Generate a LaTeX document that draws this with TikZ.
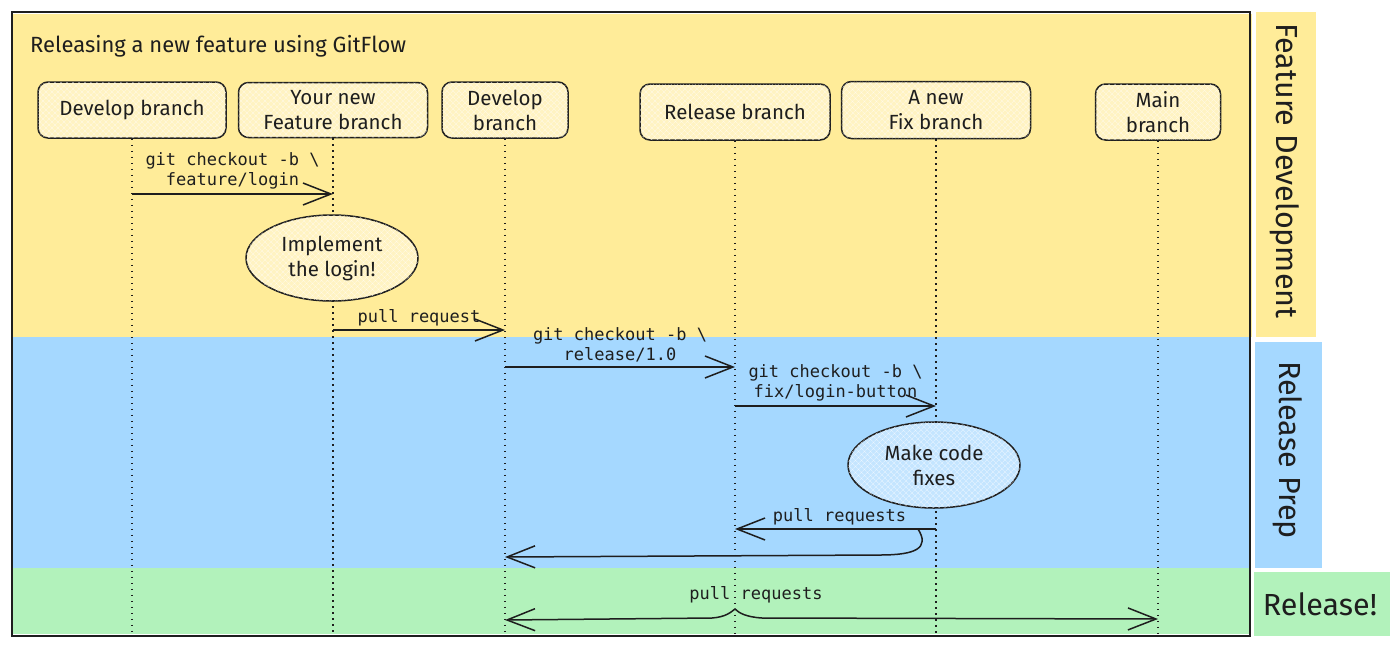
\documentclass[tikz,border=0pt]{standalone}
\usepackage{fontspec}
\setmainfont{Fira Sans}
\newfontfamily\codefont{DejaVu Sans Mono}
\usetikzlibrary{arrows.meta,shapes.geometric,patterns.meta,calc}
\definecolor{bandY}{HTML}{FFEC99}
\definecolor{bandB}{HTML}{A5D8FF}
\definecolor{bandG}{HTML}{B2F2BB}
\definecolor{ink}{HTML}{1E1E1E}
\definecolor{boxY}{HTML}{FFF3C2}
\definecolor{boxB}{HTML}{C4E5FF}
\tikzset{
  hand/.style={font=\fontsize{20.5}{25}\selectfont, text=ink},
  codetext/.style={font=\codefont\fontsize{17}{20}\selectfont, text=ink, align=center, inner sep=1pt},
  hatch/.style={postaction={pattern={Lines[angle=45,distance=4pt,line width=.5pt]}, pattern color=white, fill opacity=.6},
                postaction={pattern={Lines[angle=-45,distance=4pt,line width=.5pt]}, pattern color=white, fill opacity=.6}},
  branchbox/.style={draw=ink, line width=1.5pt, rounded corners=10pt, fill=boxY, hatch, hand, align=center, inner sep=0pt},
  noteshape/.style={ellipse, draw=ink, line width=1.5pt, hatch, hand, align=center, inner sep=0pt, minimum width=172, minimum height=86},
  lifeline/.style={draw=ink, line width=1.3pt, dash pattern=on 1.5pt off 4.5pt},
  msg/.style={draw=ink, line width=1.5pt, -{Straight Barb[length=28pt,width=22pt,line width=1.5pt]}},
  msgboth/.style={draw=ink, line width=1.5pt, {Straight Barb[length=28pt,width=22pt,line width=1.5pt]}-{Straight Barb[length=28pt,width=22pt,line width=1.5pt]}},
  sidelabel/.style={font=\fontsize{30.5}{32}\selectfont, text=ink, inner sep=0pt}
}
\begin{document}
\begin{tikzpicture}[x=1pt,y=-1pt]
\useasboundingbox (0,0) rectangle (1396,648);
% bands
\fill[bandY] (13,14) rectangle (1252,337);
\fill[bandB] (12,337) rectangle (1250,568);
\fill[bandG] (12,568) rectangle (1250,634);
\draw[ink, line width=1.5pt] (12,12) rectangle (1250,636);
% side labels
\node[fill=bandY, minimum width=325, minimum height=60, inner sep=0pt, rotate=-90] (sideF) at (1286,174.5) {};
\node[sidelabel, rotate=-90] (sideFt) at (1285,171) {Feature Development};
\node[fill=bandB, minimum width=226, minimum height=67, inner sep=0pt, rotate=-90] (sideR) at (1288.5,455) {};
\node[sidelabel, rotate=-90] (sideRt) at (1288,450) {Release Prep};
\node[fill=bandG, minimum width=136, minimum height=64, inner sep=0pt] (sideG) at (1322,604) {};
\node[sidelabel] (sideGt) at (1320,604) {Release!};
% title
\node[hand, font=\fontsize{22}{25}\selectfont, anchor=west, inner sep=0pt] (title) at (30,46) {Releasing a new feature using GitFlow};
% branch boxes
\node[branchbox, minimum width=188, minimum height=56] (dev1) at (132,110) {Develop branch};
\node[branchbox, minimum width=189, minimum height=55] (feat) at (333,110) {Your new\\Feature branch};
\node[branchbox, minimum width=126, minimum height=56] (dev2) at (505,110) {Develop\\branch};
\node[branchbox, minimum width=190, minimum height=56] (rel) at (735,112) {Release branch};
\node[branchbox, minimum width=189, minimum height=57] (fix) at (936,110) {A new\\Fix branch};
\node[branchbox, minimum width=125, minimum height=56] (main) at (1158,112) {Main\\branch};
% lifelines
\foreach \b in {dev1,feat,dev2,rel,fix,main}
  \draw[lifeline] (\b.south) -- (\b.south |- 0,634);
% notes
\node[noteshape, fill=boxY] (impl) at (332,258) {Implement\\the login!};
\node[noteshape, fill=boxB] (fixes) at (934,465) {Make code\\fixes};
% messages
\draw[msg] (dev1.south |- 0,194) -- (feat.south |- 0,194)
  node[codetext, midway, above=3pt] (m1) {git checkout -b \textbackslash\\feature/login};
\draw[msg] (feat.south |- 0,330) -- (dev2.south |- 0,330)
  node[codetext, midway, above=2pt] (m2) {pull request};
\draw[msg] (dev2.south |- 0,367) -- (rel.south |- 0,367)
  node[codetext, midway, above=3pt] (m3) {git checkout -b \textbackslash\\release/1.0};
\draw[msg] (rel.south |- 0,406) -- (fix.south |- 0,406)
  node[codetext, midway, above=3pt] (m4) {git checkout -b \textbackslash\\fix/login-button};
\draw[msg] (fix.south |- 0,529) -- (rel.south |- 0,529)
  node[codetext, midway, above=2pt, xshift=4pt] (m5) {pull requests};
\coordinate (fork) at (918,529);
\draw[msg] (fork) .. controls (930,548) and (916,555) .. (880,555) -- (dev2.south |- 0,557);
\draw[msgboth] (dev2.south |- 0,620) -- (712,618) .. controls (726,617) and (731,612) .. (735,609)
  .. controls (739,613) and (746,617) .. (762,618) -- (main.south |- 0,619);
\node[codetext] (m6) at (756,595) {pull requests};
\end{tikzpicture}
\end{document}
